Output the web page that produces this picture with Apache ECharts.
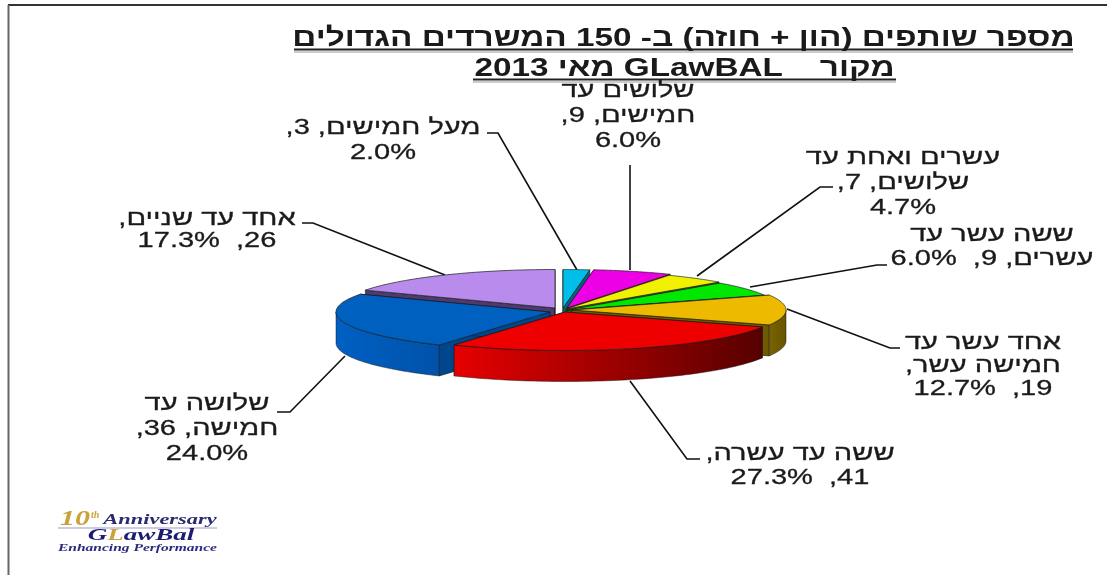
<!DOCTYPE html>
<html dir="rtl" lang="he">
<head>
<meta charset="utf-8">
<script src="https://cdn.jsdelivr.net/npm/echarts@6/dist/echarts.min.js"></script>
<style>
html,body{margin:0;padding:0;background:#fff;}
#c{position:absolute;left:0;top:0;width:1107px;height:575px;filter:blur(0.45px);}
</style>
</head>
<body>
<div id="c"></div>
<script>
// Data
const categories = ['מעל חמישים','שלושים עד חמישים','עשרים ואחת עד שלושים','ששה עשר עד עשרים','אחד עשר עד חמישה עשר','ששה עד עשרה','שלושה עד חמישה','אחד עד שניים'];
const values = [3, 9, 7, 9, 19, 41, 36, 26];
const titleLines = ['מספר שותפים (הון + חוזה) ב- 150 המשרדים הגדולים', 'מקור    GLawBAL מאי 2013'];
const labelLines = [
  ['מעל חמישים, 3,', '2.0%'],
  ['שלושים עד', 'חמישים, 9,', '6.0%'],
  ['עשרים ואחת עד', 'שלושים, 7,', '4.7%'],
  ['ששה עשר עד', 'עשרים, 9,  6.0%'],
  ['אחד עשר עד', 'חמישה עשר,', '19,  12.7%'],
  ['ששה עד עשרה,', '41,  27.3%'],
  ['שלושה עד', 'חמישה, 36,', '24.0%'],
  ['אחד עד שניים,', '26,  17.3%']
];

// Styling
const topColors  = ['#00bdea','#ee00e6','#f0f000','#00e800','#eeba00','#ee0000','#0060c0','#b98bec'];
const cutColors  = ['#00657e','#7a0076','#7a7a00','#007a00','#6e5a00','#7a0000','#00468c','#4c3a70'];
const sideColors = [
  ['#00a0c8','#00708c'],['#c800c4','#80007c'],['#c8c800','#808000'],['#00c000','#008000'],
  ['#7a6400','#665400'],['#e60000','#560000'],['#0060c4','#0052a8'],['#9a70c8','#8860b0']
];
// slice centres (pull-out of each slice) and label placement
const sliceCx = [563,567,566,567,572,565,550,555];
const sliceCy = [308,308,309,310,310,312,312,308];
const RX = 214, RY = 38.5, DEPTH = 31;
const paintOrder = [7,0,1,2,3,4,6,5];
const labelCx = [383,628,903,992,983,800,207,207];
const labelY  = [[128,153],[91,116,141],[158,183,208],[235,259],[343,366,389],[454,478],[404,429,454],[219,241]];
const leaders = [
  [[487,133],[498,133],[577,270]],
  [[630,165],[630,270]],
  [[833,187],[820,187],[697,276]],
  [[887,265],[877,265],[750,287]],
  [[900,348],[890,348],[787,309]],
  [[700,459],[687,459],[630,381]],
  [[277,412],[290,412],[345,356]],
  [[302,223],[313,223],[445,275]]
];

const total = values.reduce((a, b) => a + b, 0);
const starts = [];
values.reduce((acc, v, i) => { starts[i] = acc; return acc + v; }, 0);

function pt(i, a, dy) {
  return [sliceCx[i] + RX * Math.sin(a), sliceCy[i] - RY * Math.cos(a) + (dy || 0)];
}
function renderSlice(params) {
  const i = paintOrder[params.dataIndex];
  const a0 = starts[i] / total * Math.PI * 2;
  const a1 = (starts[i] + values[i]) / total * Math.PI * 2;
  const apex = [sliceCx[i], sliceCy[i]];
  const apexD = [sliceCx[i], sliceCy[i] + DEPTH];
  const children = [];
  const edge = '#1a1a1a';
  // cut faces
  [a0, a1].forEach(a => {
    children.push({ type: 'polygon',
      shape: { points: [apex, pt(i, a), pt(i, a, DEPTH), apexD] },
      style: { fill: cutColors[i], stroke: edge, lineWidth: 0.6 } });
  });
  // outer wall (front half only)
  const lo = Math.max(a0, Math.PI / 2), hi = Math.min(a1, Math.PI * 1.5);
  if (hi > lo) {
    const up = [], down = [];
    for (let k = 0; k <= 60; k++) {
      const a = lo + (hi - lo) * k / 60;
      up.push(pt(i, a));
      down.unshift(pt(i, a, DEPTH));
    }
    children.push({ type: 'polygon',
      shape: { points: up.concat(down) },
      style: {
        fill: { type: 'linear', x: 0, y: 0, x2: 1, y2: 0, colorStops: [
          { offset: 0, color: sideColors[i][0] }, { offset: 1, color: sideColors[i][1] }] },
        stroke: edge, lineWidth: 0.5 } });
  }
  // top face
  const top = [apex];
  for (let k = 0; k <= 60; k++) top.push(pt(i, a0 + (a1 - a0) * k / 60));
  children.push({ type: 'polygon', shape: { points: top },
    style: { fill: topColors[i], stroke: edge, lineWidth: 0.7 } });
  return { type: 'group', children };
}

const font = '22px "Liberation Sans", Arial, sans-serif';
const graphics = [
  // frame
  { type: 'line', shape: { x1: 8, y1: 5, x2: 1107, y2: 5 }, style: { stroke: '#333', lineWidth: 2 } },
  { type: 'line', shape: { x1: 8.5, y1: 5, x2: 8.5, y2: 575 }, style: { stroke: '#666', lineWidth: 2 } },
  // title underlines
  { type: 'line', shape: { x1: 294, y1: 49.5, x2: 1073, y2: 49.5 }, style: { stroke: '#222', lineWidth: 2 } },
  { type: 'line', shape: { x1: 294, y1: 52, x2: 1073, y2: 52 }, style: { stroke: '#999', lineWidth: 1 } },
  { type: 'line', shape: { x1: 473, y1: 79.5, x2: 896, y2: 79.5 }, style: { stroke: '#222', lineWidth: 2 } },
  { type: 'line', shape: { x1: 473, y1: 82, x2: 896, y2: 82 }, style: { stroke: '#999', lineWidth: 1 } }
];
[[683.5, 39], [684.5, 69]].forEach((p, k) => graphics.push({
  type: 'text', x: p[0], y: p[1], scaleX: 1.28,
  style: { text: titleLines[k], textAlign: 'center', textVerticalAlign: 'middle',
    font: 'bold 26px "Liberation Sans", Arial, sans-serif', fill: '#1a1a1a' }
}));
labelLines.forEach((lines, i) => {
  lines.forEach((ln, j) => graphics.push({
    type: 'text', x: labelCx[i], y: labelY[i][j], scaleX: 1.32,
    style: { text: ln, textAlign: 'center', textVerticalAlign: 'middle', font, fill: '#1a1a1a',
      stroke: '#1a1a1a', lineWidth: 0.3 }
  }));
  graphics.push({ type: 'polyline', shape: { points: leaders[i] },
    style: { stroke: '#111', lineWidth: 1.6, fill: 'none' } });
});
// logo
const serif = '"Liberation Serif", serif';
graphics.push(
  { type: 'text', x: 90, y: 520, scaleX: 1.5, style: { text: '10', textAlign: 'right', textVerticalAlign: 'middle', font: 'italic bold 20px ' + serif, fill: '#c9a23a' } },
  { type: 'text', x: 91, y: 515, style: { text: 'th', textAlign: 'left', textVerticalAlign: 'middle', font: 'italic bold 10px ' + serif, fill: '#c9a23a' } },
  { type: 'text', x: 160, y: 520, scaleX: 1.6, style: { text: 'Anniversary', textAlign: 'center', textVerticalAlign: 'middle', font: 'italic bold 14px ' + serif, fill: '#2a2a70' } },
  { type: 'line', shape: { x1: 58, y1: 528, x2: 217, y2: 528 }, style: { stroke: '#9a9ac8', lineWidth: 1.2 } },
  { type: 'text', x: 141, y: 536, scaleX: 1.69, style: {
      text: '{a|G}{b|L}{a|awBal}', textAlign: 'center', textVerticalAlign: 'middle',
      font: 'italic bold 16px ' + serif,
      rich: { a: { font: 'italic bold 16px ' + serif, fill: '#1c1c70' }, b: { font: 'italic bold 16px ' + serif, fill: '#c9a23a' } } } },
  { type: 'text', x: 137.5, y: 548, scaleX: 1.41, style: { text: 'Enhancing Performance', textAlign: 'center', textVerticalAlign: 'middle', font: 'italic bold 11px ' + serif, fill: '#2a2a80' } }
);

const chart = echarts.init(document.getElementById('c'));
chart.setOption({
  animation: false,
  backgroundColor: '#ffffff',
  graphic: { elements: graphics },
  series: [{
    type: 'custom',
    coordinateSystem: 'none',
    silent: true,
    z: 5,
    data: paintOrder.map(i => ({ name: categories[i], value: values[i] })),
    renderItem: renderSlice
  }]
});
</script>
</body>
</html>
